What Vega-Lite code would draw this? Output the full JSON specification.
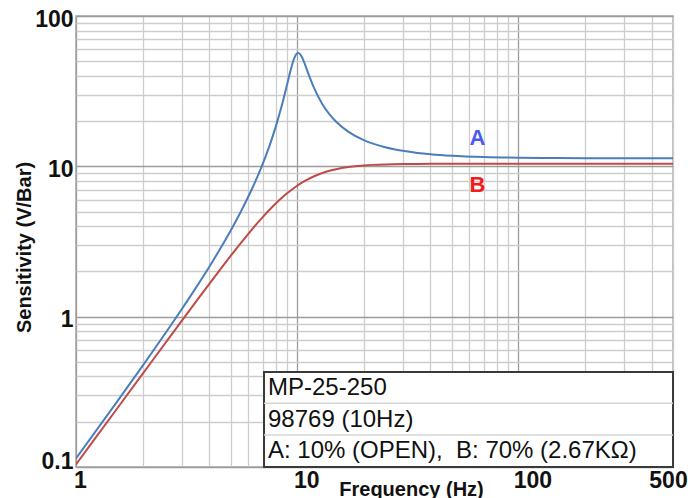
{
  "$schema": "https://vega.github.io/schema/vega-lite/v6.json",
  "width": 597,
  "height": 451,
  "autosize": "none",
  "padding": {"left": 76, "top": 16, "right": 15, "bottom": 31},
  "background": "white",
  "config": {
    "view": {"stroke": "#a8a8a8", "strokeWidth": 1.5},
    "font": "Liberation Sans"
  },
  "datasets": {
    "curves": [
      {"f": 1, "s": 0.1141, "series": "A"},
      {"f": 1.5, "s": 0.26, "series": "A"},
      {"f": 2, "s": 0.4704, "series": "A"},
      {"f": 3, "s": 1.1151, "series": "A"},
      {"f": 3.5, "s": 1.572, "series": "A"},
      {"f": 4, "s": 2.1427, "series": "A"},
      {"f": 4.5, "s": 2.851, "series": "A"},
      {"f": 5, "s": 3.734, "series": "A"},
      {"f": 5.5, "s": 4.841, "series": "A"},
      {"f": 6, "s": 6.247, "series": "A"},
      {"f": 6.5, "s": 8.065, "series": "A"},
      {"f": 7, "s": 10.47, "series": "A"},
      {"f": 7.5, "s": 13.74, "series": "A"},
      {"f": 8, "s": 18.36, "series": "A"},
      {"f": 8.5, "s": 25.09, "series": "A"},
      {"f": 9, "s": 34.97, "series": "A"},
      {"f": 9.3, "s": 42.51, "series": "A"},
      {"f": 9.6, "s": 50.21, "series": "A"},
      {"f": 9.8, "s": 54.27, "series": "A"},
      {"f": 9.9, "s": 55.65, "series": "A"},
      {"f": 10, "s": 56.5, "series": "A"},
      {"f": 10.1, "s": 56.78, "series": "A"},
      {"f": 10.2, "s": 56.53, "series": "A"},
      {"f": 10.3, "s": 55.81, "series": "A"},
      {"f": 10.5, "s": 53.31, "series": "A"},
      {"f": 10.8, "s": 48.33, "series": "A"},
      {"f": 11, "s": 44.96, "series": "A"},
      {"f": 11.5, "s": 37.73, "series": "A"},
      {"f": 12, "s": 32.47, "series": "A"},
      {"f": 13, "s": 25.9, "series": "A"},
      {"f": 14, "s": 22.15, "series": "A"},
      {"f": 15, "s": 19.78, "series": "A"},
      {"f": 17, "s": 17.01, "series": "A"},
      {"f": 20, "s": 14.93, "series": "A"},
      {"f": 22, "s": 14.15, "series": "A"},
      {"f": 25, "s": 13.39, "series": "A"},
      {"f": 30, "s": 12.68, "series": "A"},
      {"f": 35, "s": 12.28, "series": "A"},
      {"f": 40, "s": 12.04, "series": "A"},
      {"f": 50, "s": 11.76, "series": "A"},
      {"f": 70, "s": 11.53, "series": "A"},
      {"f": 100, "s": 11.41, "series": "A"},
      {"f": 150, "s": 11.35, "series": "A"},
      {"f": 200, "s": 11.33, "series": "A"},
      {"f": 300, "s": 11.31, "series": "A"},
      {"f": 500, "s": 11.3, "series": "A"},
      {"f": 1, "s": 0.104, "series": "B"},
      {"f": 1.5, "s": 0.234, "series": "B"},
      {"f": 2, "s": 0.416, "series": "B"},
      {"f": 3, "s": 0.934, "series": "B"},
      {"f": 3.5, "s": 1.268, "series": "B"},
      {"f": 4, "s": 1.648, "series": "B"},
      {"f": 4.5, "s": 2.072, "series": "B"},
      {"f": 5, "s": 2.534, "series": "B"},
      {"f": 5.5, "s": 3.028, "series": "B"},
      {"f": 6, "s": 3.545, "series": "B"},
      {"f": 6.5, "s": 4.077, "series": "B"},
      {"f": 7, "s": 4.613, "series": "B"},
      {"f": 7.5, "s": 5.143, "series": "B"},
      {"f": 8, "s": 5.658, "series": "B"},
      {"f": 8.5, "s": 6.149, "series": "B"},
      {"f": 9, "s": 6.611, "series": "B"},
      {"f": 9.5, "s": 7.04, "series": "B"},
      {"f": 10, "s": 7.429, "series": "B"},
      {"f": 10.5, "s": 7.781, "series": "B"},
      {"f": 11, "s": 8.096, "series": "B"},
      {"f": 12, "s": 8.623, "series": "B"},
      {"f": 13, "s": 9.03, "series": "B"},
      {"f": 14, "s": 9.34, "series": "B"},
      {"f": 15, "s": 9.575, "series": "B"},
      {"f": 17, "s": 9.89, "series": "B"},
      {"f": 20, "s": 10.137, "series": "B"},
      {"f": 22, "s": 10.226, "series": "B"},
      {"f": 25, "s": 10.302, "series": "B"},
      {"f": 30, "s": 10.359, "series": "B"},
      {"f": 35, "s": 10.382, "series": "B"},
      {"f": 40, "s": 10.393, "series": "B"},
      {"f": 50, "s": 10.4, "series": "B"},
      {"f": 100, "s": 10.4, "series": "B"},
      {"f": 200, "s": 10.4, "series": "B"},
      {"f": 500, "s": 10.4, "series": "B"}
    ],
    "legendRows": [
      {"text": "MP-25-250", "f": 7.38, "s": 0.3014},
      {"text": "98769 (10Hz)", "f": 7.38, "s": 0.1854},
      {"text": "A: 10% (OPEN),\u00a0 B: 70% (2.67KΩ)", "f": 7.38, "s": 0.1148}
    ],
    "seriesLabels": [
      {"text": "A", "f": 65.3, "s": 13.87},
      {"text": "B", "f": 65.3, "s": 6.72}
    ],
    "box": [
      {"f1": 7.08, "f2": 500, "s1": 0.1, "s2": 0.4285}
    ],
    "separators": [
      {"f1": 7.08, "f2": 500, "s": 0.265},
      {"f1": 7.08, "f2": 500, "s": 0.1633}
    ]
  },
  "layer": [
    {
      "data": {"name": "curves"},
      "mark": {"type": "line", "strokeWidth": 2, "interpolate": "monotone", "clip": true},
      "encoding": {
        "x": {
          "field": "f",
          "type": "quantitative",
          "scale": {"type": "log", "domain": [1, 500], "nice": false, "zero": false},
          "axis": {
            "title": "Frequency (Hz)",
            "titleFont": "Liberation Sans",
            "titleFontSize": 20,
            "titleFontWeight": "bold",
            "titleColor": "#111",
            "titleX": 335,
            "titleY": 28,
            "titleAnchor": null,
            "titleAlign": "center",
            "titleBaseline": "alphabetic",
            "values": [1, 2, 3, 4, 5, 6, 7, 8, 9, 10, 20, 30, 40, 50, 60, 70, 80, 90, 100, 200, 300, 400, 500],
            "labelExpr": "datum.value == 1 || datum.value == 10 || datum.value == 100 || datum.value == 500 ? '' + datum.value : ''",
            "labelFont": "Liberation Sans",
            "labelFontSize": 23,
            "labelFontWeight": "bold",
            "labelColor": "#111",
            "labelFlush": false,
            "labelOverlap": false,
            "labelBound": false,
            "labelAlign": "center",
            "labelBaseline": "alphabetic",
            "labelPadding": 20,
            "labelOffset": {
              "condition": [
                {"test": "datum.value == 1", "value": 4},
                {"test": "datum.value == 10", "value": 9},
                {"test": "datum.value == 100", "value": 14}
              ],
              "value": -5
            },
            "ticks": false,
            "tickSize": 0,
            "domain": false,
            "grid": true,
            "gridColor": {
              "condition": {"test": "datum.value == 1 || datum.value == 10 || datum.value == 100", "value": "#9c9c9c"},
              "value": "#cdcdcd"
            },
            "gridWidth": 1.3
          }
        },
        "y": {
          "field": "s",
          "type": "quantitative",
          "scale": {"type": "log", "domain": [0.1, 100], "nice": false, "zero": false},
          "axis": {
            "title": "Sensitivity (V/Bar)",
            "titleFont": "Liberation Sans",
            "titleFontSize": 20,
            "titleFontWeight": "bold",
            "titleColor": "#111",
            "titleX": -46,
            "titleY": 231,
            "titleAngle": 270,
            "titleAnchor": null,
            "titleAlign": "center",
            "titleBaseline": "alphabetic",
            "values": [0.1, 0.2, 0.3, 0.4, 0.5, 0.6, 0.7, 0.8, 0.9, 1, 2, 3, 4, 5, 6, 7, 8, 9, 10, 20, 30, 40, 50, 60, 70, 80, 90, 100],
            "labelExpr": "datum.value == 0.1 || datum.value == 1 || datum.value == 10 || datum.value == 100 ? '' + datum.value : ''",
            "labelFont": "Liberation Sans",
            "labelFontSize": 23,
            "labelFontWeight": "bold",
            "labelColor": "#111",
            "labelFlush": false,
            "labelOverlap": false,
            "labelBound": false,
            "labelAlign": "right",
            "labelBaseline": "alphabetic",
            "labelPadding": 3,
            "labelOffset": {
              "condition": {"test": "datum.value == 0.1", "value": 1},
              "value": 10
            },
            "ticks": false,
            "tickSize": 0,
            "domain": false,
            "grid": true,
            "gridColor": {
              "condition": {"test": "datum.value == 0.1 || datum.value == 1 || datum.value == 10 || datum.value == 100", "value": "#9c9c9c"},
              "value": "#cdcdcd"
            },
            "gridWidth": 1.3
          }
        },
        "color": {
          "field": "series",
          "type": "nominal",
          "scale": {"domain": ["A", "B"], "range": ["#4a7ebb", "#be4b48"]},
          "legend": null
        }
      }
    },
    {
      "data": {"name": "seriesLabels"},
      "mark": {"type": "text", "font": "Liberation Sans", "fontSize": 22, "fontWeight": "bold", "align": "center", "baseline": "alphabetic"},
      "encoding": {
        "x": {"field": "f", "type": "quantitative"},
        "y": {"field": "s", "type": "quantitative"},
        "text": {"field": "text"},
        "color": {
          "field": "text",
          "type": "nominal",
          "scale": {"domain": ["A", "B"], "range": ["#4a5cf0", "#f21a1a"]},
          "legend": null
        }
      }
    },
    {
      "data": {"name": "box"},
      "mark": {"type": "rect", "fill": "white", "stroke": "#3a3a3a", "strokeWidth": 2},
      "encoding": {
        "x": {"field": "f1", "type": "quantitative"},
        "x2": {"field": "f2"},
        "y": {"field": "s1", "type": "quantitative"},
        "y2": {"field": "s2"}
      }
    },
    {
      "data": {"name": "separators"},
      "mark": {"type": "rule", "color": "#d6d6d6", "strokeWidth": 1.5},
      "encoding": {
        "x": {"field": "f1", "type": "quantitative"},
        "x2": {"field": "f2"},
        "y": {"field": "s", "type": "quantitative"}
      }
    },
    {
      "data": {"name": "legendRows"},
      "mark": {"type": "text", "font": "Liberation Sans", "fontSize": 24, "align": "left", "baseline": "alphabetic", "color": "#111"},
      "encoding": {
        "x": {"field": "f", "type": "quantitative"},
        "y": {"field": "s", "type": "quantitative"},
        "text": {"field": "text"}
      }
    }
  ],
  "resolve": {"scale": {"color": "independent"}}
}
